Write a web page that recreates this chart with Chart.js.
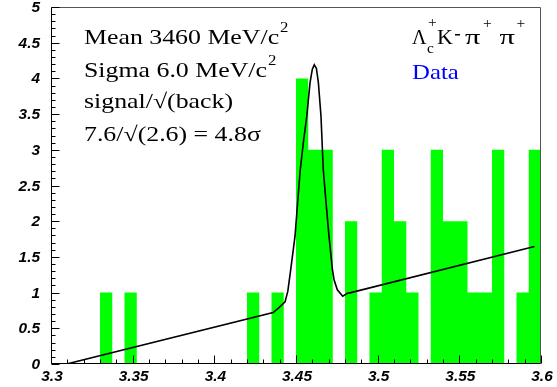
<!DOCTYPE html>
<html>
<head>
<meta charset="utf-8">
<script src="https://cdn.jsdelivr.net/npm/chart.js@4.4.1/dist/chart.umd.min.js"></script>
<style>
  html, body { margin: 0; padding: 0; background: #fff; }
  #chart { display: block; }
</style>
</head>
<body>
<canvas id="chart" width="557" height="387"></canvas>
<script>
// histogram bins (lower edges, GeV/c^2) and entries
const binLow = [
    3.3000, 3.3075, 3.3150, 3.3225, 3.3300, 3.3375, 3.3450, 3.3525, 3.3600, 3.3675,
    3.3750, 3.3825, 3.3900, 3.3975, 3.4050, 3.4125, 3.4200, 3.4275, 3.4350, 3.4425,
    3.4500, 3.4575, 3.4650, 3.4725, 3.4800, 3.4875, 3.4950, 3.5025, 3.5100, 3.5175,
    3.5250, 3.5325, 3.5400, 3.5475, 3.5550, 3.5625, 3.5700, 3.5775, 3.5850, 3.5925
];
const binHighEdge = 3.6;
const counts = [
    0, 0, 0, 0, 1, 0, 1, 0, 0, 0,
    0, 0, 0, 0, 0, 0, 1, 0, 1, 0,
    4, 3, 3, 0, 2, 0, 1, 3, 2, 1,
    0, 3, 2, 2, 1, 1, 3, 0, 1, 3
];

// fit curve (gaussian + linear background)
const fitX = [3.3095, 3.4360, 3.4391, 3.4433, 3.4450, 3.4467, 3.4494, 3.4510, 3.4526, 3.4546,
              3.4566, 3.4586, 3.4600, 3.4612, 3.4625, 3.4637, 3.4653, 3.4667, 3.4684, 3.4702,
              3.4723, 3.4733, 3.4753, 3.4786, 3.4815, 3.4836, 3.5960];
const fitY = [0.00, 0.72, 0.78, 0.87, 1.02, 1.31, 1.79, 2.26, 2.72, 3.12,
              3.47, 3.94, 4.13, 4.19, 4.14, 3.94, 3.47, 2.72, 2.26, 1.79,
              1.32, 1.18, 1.04, 0.95, 0.99, 1.00, 1.645];

// axis ticks
const xTicks = [3.3, 3.35, 3.4, 3.45, 3.5, 3.55, 3.6];
const xTickLabels = ['3.3', '3.35', '3.4', '3.45', '3.5', '3.55', '3.6'];
const yTicks = [0, 0.5, 1, 1.5, 2, 2.5, 3, 3.5, 4, 4.5, 5];
const yTickLabels = ['0', '0.5', '1', '1.5', '2', '2.5', '3', '3.5', '4', '4.5', '5'];

const histPoints = binLow.map((x, i) => ({ x: x, y: counts[i] }));
histPoints.push({ x: binHighEdge, y: counts[counts.length - 1] });
const fitPoints = fitX.map((x, i) => ({ x: x, y: fitY[i] }));

const labelFont = 'italic bold 14px "Liberation Sans", Arial, sans-serif';

// draws text stretched horizontally, returns right edge
function stretched(ctx, s, x, y, size, color, sx) {
    ctx.save();
    ctx.translate(x, y);
    ctx.scale(sx, 1);
    ctx.font = size + 'px "Liberation Serif", "Times New Roman", serif';
    ctx.fillStyle = color;
    ctx.textBaseline = 'alphabetic';
    ctx.fillText(s, 0, 0);
    const w = ctx.measureText(s).width * sx;
    ctx.restore();
    return x + w;
}

// tick label, anchored at its right edge or centre
function tickLabel(ctx, s, x, y, align) {
    ctx.save();
    ctx.font = labelFont;
    const w = ctx.measureText(s).width * 1.1;
    const left = align === 'right' ? x - w : x - w / 2;
    ctx.translate(left, y);
    ctx.scale(1.1, 1);
    ctx.fillStyle = '#000';
    ctx.textBaseline = 'alphabetic';
    ctx.fillText(s, 0, 0);
    ctx.restore();
}

const frameAndText = {
    id: 'frameAndText',
    afterDraw(chart) {
        const { ctx, chartArea: a, scales } = chart;
        const xs = scales.x, ys = scales.y;
        const L = Math.round(a.left) + 0.5, R = Math.round(a.right) - 0.5;
        const T = Math.round(a.top) + 0.5, B = Math.round(a.bottom) - 0.5;
        ctx.save();
        ctx.lineWidth = 1;

        // frame
        ctx.strokeStyle = '#555';
        ctx.beginPath();
        ctx.moveTo(L, T); ctx.lineTo(R, T); ctx.lineTo(R, B);
        ctx.stroke();
        ctx.strokeStyle = '#000';
        ctx.beginPath();
        ctx.moveTo(L, T); ctx.lineTo(L, B); ctx.lineTo(R, B);
        ctx.stroke();

        // inward ticks, minor every 0.1 on y, 0.01 on x
        ctx.beginPath();
        for (let k = 0; k <= 50; k++) {
            const py = Math.round(ys.getPixelForValue(k / 10)) + 0.5;
            const len = k % 5 === 0 ? 8 : 4;
            ctx.moveTo(L, py); ctx.lineTo(L + len, py);
        }
        for (let k = 0; k <= 30; k++) {
            const px = Math.round(xs.getPixelForValue(3.3 + k / 100)) + 0.5;
            const len = k % 5 === 0 ? 8 : 4;
            ctx.moveTo(px, B); ctx.lineTo(px, B - len);
        }
        ctx.stroke();

        // tick labels
        yTicks.forEach((v, i) => tickLabel(ctx, yTickLabels[i], 40, ys.getPixelForValue(v) + 5, 'right'));
        xTicks.forEach((v, i) => tickLabel(ctx, xTickLabels[i], xs.getPixelForValue(v) + 1, 381, 'center'));

        // fit summary
        let e = stretched(ctx, 'Mean 3460 MeV/c', 84, 43.5, 21, '#000', 1.23);
        stretched(ctx, '2', e + 1, 32, 14, '#000', 1.2);
        e = stretched(ctx, 'Sigma 6.0 MeV/c', 84, 76.5, 21, '#000', 1.23);
        stretched(ctx, '2', e + 1, 65, 14, '#000', 1.2);
        stretched(ctx, 'signal/\u221A(back)', 84, 107.5, 21, '#000', 1.23);
        stretched(ctx, '7.6/\u221A(2.6) = 4.8\u03C3', 84, 140.5, 21, '#000', 1.23);

        // decay channel
        stretched(ctx, '\u039B', 412, 43.5, 20, '#000', 1.0);
        stretched(ctx, 'c', 427, 52.5, 14, '#000', 1.1);
        stretched(ctx, '+', 428, 27, 14, '#000', 1.1);
        stretched(ctx, 'K', 437, 43.5, 20, '#000', 1.1);
        ctx.fillStyle = '#000';
        ctx.fillRect(455, 34, 5, 1.5);
        stretched(ctx, '\u03C0', 465, 43.5, 21, '#000', 1.45);
        stretched(ctx, '+', 483, 28, 14, '#000', 1.1);
        stretched(ctx, '\u03C0', 499.5, 43.5, 21, '#000', 1.45);
        stretched(ctx, '+', 516.5, 28, 14, '#000', 1.1);
        stretched(ctx, 'Data', 412, 79, 21, '#0000ff', 1.18);

        ctx.restore();
    }
};

new Chart(document.getElementById('chart'), {
    type: 'line',
    data: {
        datasets: [
            {
                label: 'fit',
                data: fitPoints,
                borderColor: '#000',
                borderWidth: 1.6,
                pointRadius: 0,
                fill: false,
                tension: 0
            },
            {
                label: 'Data',
                data: histPoints,
                stepped: 'before',
                borderColor: 'rgba(0,0,0,0)',
                borderWidth: 0,
                backgroundColor: '#00ff00',
                pointRadius: 0,
                fill: 'origin'
            }
        ]
    },
    options: {
        responsive: false,
        animation: false,
        devicePixelRatio: 1,
        layout: { padding: { left: 0, right: 16, top: 7, bottom: 0 } },
        plugins: {
            legend: { display: false },
            tooltip: { enabled: false }
        },
        scales: {
            x: {
                type: 'linear',
                min: 3.3,
                max: 3.6,
                grid: { display: false, drawTicks: false },
                border: { display: false },
                afterBuildTicks: (scale) => { scale.ticks = xTicks.map(v => ({ value: v })); },
                afterFit: (scale) => { scale.height = 23; },
                ticks: { display: false }
            },
            y: {
                type: 'linear',
                min: 0,
                max: 5,
                grid: { display: false, drawTicks: false },
                border: { display: false },
                afterBuildTicks: (scale) => { scale.ticks = yTicks.map(v => ({ value: v })); },
                afterFit: (scale) => { scale.width = 51; },
                ticks: { display: false }
            }
        }
    },
    plugins: [frameAndText]
});
</script>
</body>
</html>
